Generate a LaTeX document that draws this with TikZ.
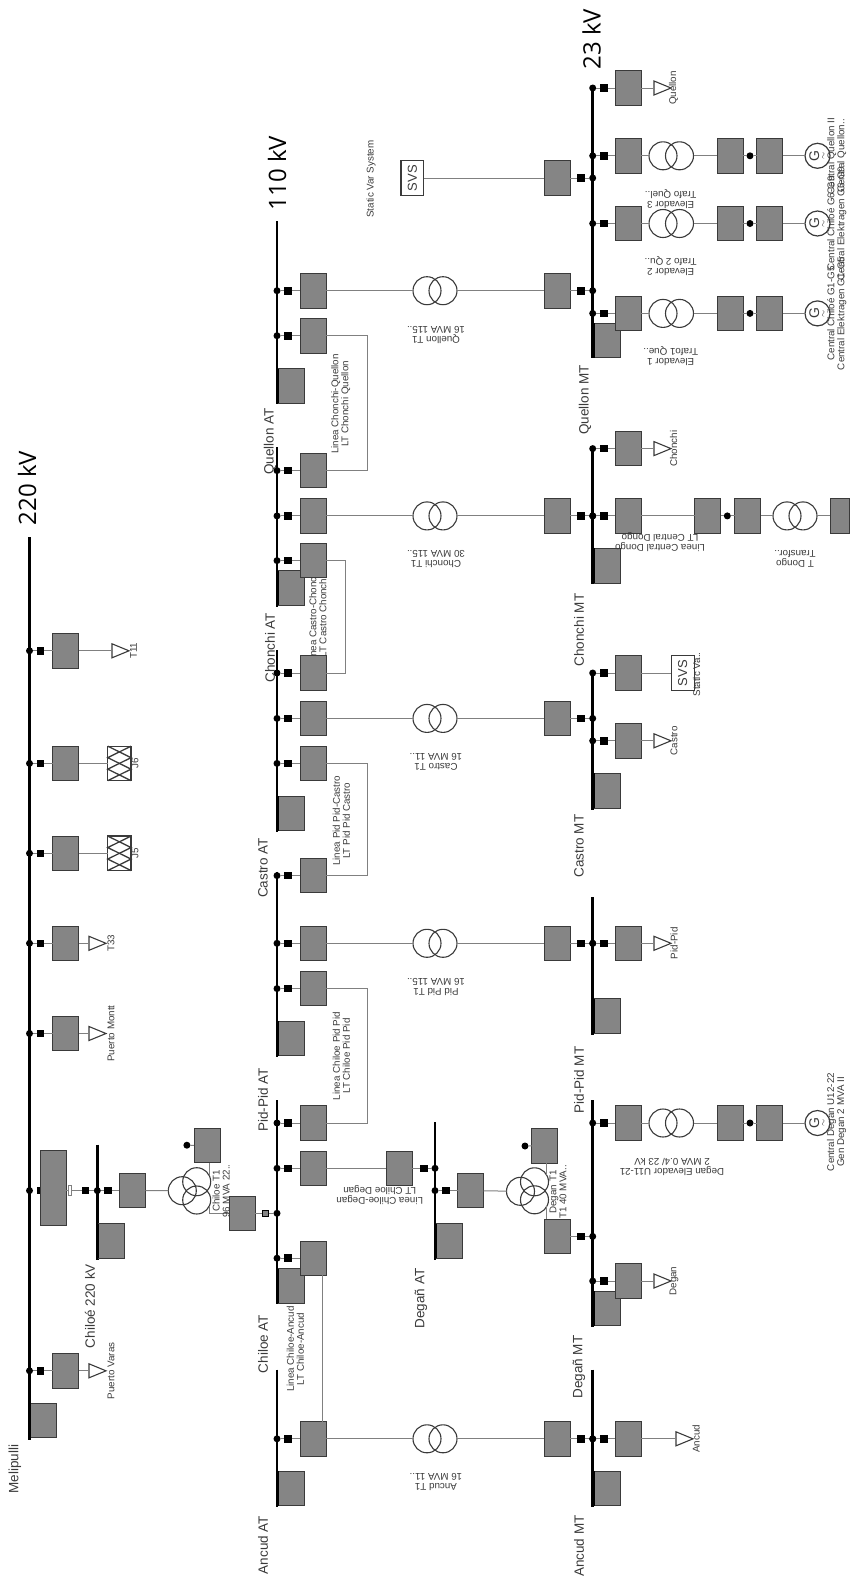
\documentclass[tikz,border=0pt]{standalone}
\usepackage{fontspec}
\setmainfont{Liberation Sans}
\newfontfamily\kvfont{Open Sans}
\usetikzlibrary{shapes.geometric}
\definecolor{boxgray}{HTML}{858585}
\definecolor{wiregray}{HTML}{808080}
\definecolor{inkgray}{HTML}{3A3A3A}
\tikzset{
  wire/.style={color=wiregray, line width=1pt},
  busbar/.style={color=black, line width=2.8pt},
  gbox/.style={rectangle, draw=inkgray, fill=boxgray, line width=0.9pt, minimum width=26pt, minimum height=34.5pt, inner sep=0pt, outer sep=0pt},
  sqr/.style={rectangle, fill=black, minimum size=7.6pt, inner sep=0pt, outer sep=0pt},
  busdot/.style={circle, fill=black, minimum size=7pt, inner sep=0pt, outer sep=0pt},
  winding/.style={circle, draw=inkgray, line width=1.1pt, minimum size=28pt, inner sep=0pt, outer sep=0pt},
  gen/.style={circle, draw=inkgray, line width=1.2pt, minimum size=25pt, inner sep=0pt, outer sep=0pt, rotate=90, align=center, text=inkgray, font=\fontsize{14}{7.5}\selectfont},
  load/.style={isosceles triangle, isosceles triangle stretches, shape border rotate=0, draw=inkgray, line width=1.1pt, minimum width=14pt, minimum height=17pt, inner sep=0pt, outer sep=0pt, anchor=apex},
  shunt/.style={rectangle, draw=inkgray, line width=1.2pt, minimum width=23.3pt, minimum height=34.5pt, inner sep=0pt, outer sep=0pt},
  svsbox/.style={rectangle, draw=inkgray, fill=white, line width=1.1pt, rotate=90, minimum width=34.5pt, minimum height=22.7pt, inner sep=0pt, outer sep=0pt, text=inkgray, font=\fontsize{13}{13}\selectfont},
  lbl/.style={rotate=90, align=center, inner sep=0pt, text=inkgray, font=\fontsize{9.8}{10}\selectfont},
  flip/.style={rotate=180, align=center, inner sep=0pt, text=inkgray, font=\fontsize{9.8}{10}\selectfont},
  busname/.style={rotate=90, inner sep=0pt, text=inkgray, font=\fontsize{13.5}{14}\selectfont},
  kvname/.style={rotate=90, inner sep=0pt, text=black, font=\kvfont\fontsize{24}{24}\selectfont}
}
\begin{document}
\begin{tikzpicture}[x=1pt,y=-1pt]
\useasboundingbox (0,0) rectangle (849,1580);
% labels the boxes partly hide
\node[lbl] (lineCK) at (317.8,617) {Linea Castro-Chonchi\\LT Castro Chonchi};
% bus bars
\foreach \nm/\xx/\ya/\yb in {mel/29.5/537/1439.5, chi/97.3/1144.7/1259.6, qat/277/221.4/404, cat/277/447/607, kat/277/650/831.7, pat/277/871.6/1056.8, hat/277/1100/1304, aat/277/1369.5/1507, dat/435/1122/1259.6, qmt/592.7/87/358.4, cmt/592.7/448/583.6, kmt/592.7/673/810, pmt/592.7/897/1035, dmt/592.7/1100/1327, amt/592.7/1369.5/1507}{
  \coordinate (\nm T) at (\xx,\ya);
  \coordinate (\nm B) at (\xx,\yb);
  \draw[busbar] (\nm T) -- (\nm B);
}
% boxes at the end of the bus bars
\foreach \nm/\xx/\yy in {mel/43.3/1420.6, chi/111/1241, qat/291/386, cat/291/588, kat/291/813.3, pat/291/1038.5, hat/291/1286, aat/291/1488.5, dat/449.2/1241, qmt/607/340.6, cmt/607/565.7, kmt/607/790.7, pmt/607/1016, dmt/607/1308.5, amt/607/1488.5}{
  \node[gbox] (e\nm) at (\xx,\yy) {};
  \draw[color=black, line width=1.6pt] (e\nm.north west) -- (e\nm.south west);
}
% bays on the 220 bus
\foreach \nm/\yy in {lva/1370.8, lmo/1033.5, l33/943.3, j5/853.3, j6/763.4, l11/650.8}{
  \node[busdot] (d\nm) at (29.5,\yy) {};
  \node[sqr] (s\nm) at (40.5,\yy) {};
  \node[gbox] (b\nm) at (65.7,\yy) {};
  \draw[wire] (d\nm) -- (s\nm) -- (b\nm);
}
% bays on the high side bus
\foreach \nm/\yy in {qa1/290.7, qa2/335.7, ca1/470.6, ca2/515.9, ca3/560.6, ka1/673, ka2/718.4, ka3/763.4, pa1/875.6, pa2/943.3, pa3/988.6, ha1/1123, ha2/1168.3, ha4/1258.2, aa1/1438.8}{
  \node[busdot] (d\nm) at (277,\yy) {};
  \node[sqr] (s\nm) at (288,\yy) {};
  \node[gbox] (b\nm) at (313,\yy) {};
  \draw[wire] (d\nm) -- (s\nm) -- (b\nm);
}
% two winding transformers between the buses
\foreach \nm/\yy/\hi in {qm1/290.7/qa1, cm1/515.9/ca2, km1/718.4/ka2, pm1/943.3/pa2, am1/1438.8/aa1}{
  \node[winding] (wa\nm) at (427,\yy) {};
  \node[winding] (wb\nm) at (443,\yy) {};
  \node[busdot] (d\nm) at (592.7,\yy) {};
  \node[sqr] (s\nm) at (580.7,\yy) {};
  \node[gbox] (b\nm) at (557,\yy) {};
  \draw[wire] (b\hi) -- (wa\nm);
  \draw[wire] (wb\nm) -- (b\nm) -- (s\nm) -- (d\nm);
}
% bays to the right of the low side bus
\foreach \nm/\yy in {qm2/88, cm2/448.6, kmv/673, km2/740.8, pm2/943.3, dm2/1281, am2/1438.8, cmd/515.9, qg1/155.8, qg2/223.5, qg3/313.4, dg1/1123}{
  \node[busdot] (d\nm) at (592.7,\yy) {};
  \node[sqr] (s\nm) at (604,\yy) {};
  \node[gbox] (b\nm) at (628,\yy) {};
  \draw[wire] (d\nm) -- (s\nm) -- (b\nm);
}
% step up sets with generator
\foreach \nm/\yy in {qg1/155.8, qg2/223.5, qg3/313.4, dg1/1123}{
  \node[winding] (wa\nm) at (663,\yy) {};
  \node[winding] (wb\nm) at (679.5,\yy) {};
  \node[gbox] (m\nm) at (730,\yy) {};
  \node[busdot] (n\nm) at (750,\yy) {};
  \node[gbox] (o\nm) at (769.7,\yy) {};
  \node[gen] (g\nm) at (817.5,\yy) {G\\[-1pt]{\fontsize{9}{7.5}\selectfont$\sim$}};
  \draw[wire] (b\nm) -- (wa\nm);
  \draw[wire] (wb\nm) -- (m\nm) -- (n\nm) -- (o\nm) -- (g\nm);
}
% loads
\foreach \nm/\feeder/\xx/\yy/\txt/\tx in {lva/blva/106/1370.8/Puerto Varas/111, lmo/blmo/106/1033.5/Puerto Montt/111, l33/bl33/106/943.3/T33/111, l11/bl11/129/650.8/T11/133.5, qm2/bqm2/671/88/Quellon/673.5, cm2/bcm2/671/448.6/Chonchi/673.5, km2/bkm2/671/740.8/Castro/674, pm2/bpm2/671/943.3/Pid-Pid/674, dm2/bdm2/671/1281/Degan/674, am2/bam2/693/1438.8/Ancud/696}{
  \node[load] (t\nm) at (\xx,\yy) {};
  \draw[wire] (\feeder) -- (t\nm);
  \node[lbl] (x\nm) at (\tx,\yy) {\txt};
}
% hatched shunts
\foreach \nm/\yy in {j5/853.3, j6/763.4}{
  \node[shunt] (r\nm) at (119.4,\yy) {};
  \draw[color=inkgray, line width=1.3pt] (r\nm.north west) -- ++(23.3,11.5) -- ++(-23.3,11.5) -- ++(23.3,11.5);
  \draw[color=inkgray, line width=1.3pt] (r\nm.north east) -- ++(-23.3,11.5) -- ++(23.3,11.5) -- ++(-23.3,11.5);
  \draw[wire] (b\nm) -- (r\nm);
}
\node[lbl] (xj5) at (135,853.3) {J5};
\node[lbl] (xj6) at (135,763.4) {J6};
% Chiloe 220 and its transformer
\node[busdot] (dmel) at (29.5,1190.6) {};
\node[sqr] (smel) at (40.5,1190.6) {};
\node[gbox, minimum height=74.7pt] (bmel) at (53,1187.7) {};
\node[rectangle, draw=wiregray, line width=1pt, minimum width=3pt, minimum height=10pt, inner sep=0pt] (tmel) at (70,1190.6) {};
\node[sqr] (schi) at (85.5,1190.6) {};
\node[busdot] (dchi) at (97.3,1190.6) {};
\node[sqr] (schb) at (108,1190.6) {};
\node[gbox] (bchb) at (132.3,1190.6) {};
\draw[wire] (bmel.east |- tmel) -- (tmel) -- (schi) -- (dchi) -- (schb) -- (bchb);
\node[winding] (tcl) at (182.3,1190.7) {};
\node[winding] (tct) at (196.7,1181.7) {};
\node[winding] (tcb) at (196.7,1200) {};
\node[gbox] (bctop) at (207,1145.6) {};
\node[busdot] (dctop) at (186.9,1145.2) {};
\node[gbox] (bcbot) at (242,1213.3) {};
\node[rectangle, draw=black, fill=boxgray, line width=0.9pt, minimum width=5.6pt, minimum height=6.5pt, inner sep=0pt] (shat) at (265.7,1213.3) {};
\node[busdot] (dhat) at (277,1213.3) {};
\draw[wire] (bchb) -- (tcl);
\draw[wire] (tct.27) -- (tct.27 |- bctop.south);
\draw[wire] (dctop) -- (bctop);
\draw[wire] (tcb.-27) |- (bcbot);
\draw[wire] (bcbot) -- (shat) -- (dhat);
\node[lbl] (lchit) at (221.2,1191) {Chiloe T1\\96 MVA 22..};
% Degan 110 and its transformer
\node[gbox] (bdeg) at (399.3,1168.3) {};
\node[sqr] (sdeg) at (423.7,1168.3) {};
\node[busdot] (ddeg) at (435,1168.3) {};
\draw[wire] (bha2) -- (bdeg) -- (sdeg) -- (ddeg);
\node[busdot] (ddat) at (435,1190.6) {};
\node[sqr] (sdat) at (446,1190.6) {};
\node[gbox] (bdat) at (470.5,1190.6) {};
\draw[wire] (ddat) -- (sdat) -- (bdat);
\node[winding] (tdl) at (520.5,1191.3) {};
\node[winding] (tdt) at (534.5,1181.8) {};
\node[winding] (tdb) at (534.5,1199.8) {};
\node[gbox] (bdtop) at (544.8,1145.7) {};
\node[busdot] (ddtop) at (525,1146) {};
\node[gbox] (bdbot) at (557,1236.4) {};
\node[sqr] (sdbot) at (580.7,1236.4) {};
\node[busdot] (ddbot) at (592.7,1236.4) {};
\draw[wire] (bdat) -- (tdl);
\draw[wire] (tdt.27) -- (tdt.27 |- bdtop.south);
\draw[wire] (ddtop) -- (bdtop);
\draw[wire] (tdb.-27) -- (tdb.-27 |- bdbot.north);
\draw[wire] (bdbot) -- (sdbot) -- (ddbot);
\node[lbl] (ldegt) at (558,1192) {Degan T1\\T1 40 MVA..};
% Static var systems
\node[busdot] (dqs) at (592.7,178) {};
\node[sqr] (sqs) at (580.7,178) {};
\node[gbox] (bqs) at (557,178) {};
\node[svsbox] (vqs) at (412.3,178) {SVS};
\draw[wire] (vqs) -- (bqs) -- (sqs) -- (dqs);
\node[svsbox] (vkm) at (682.7,673) {SVS};
\draw[wire] (bkmv) -- (vkm);
% lines between substations
\draw[wire] (bqa2.east) -- ++(41,0) |- (bca1.east);
\draw[wire] (bka1.east) -- ++(19,0) |- (bca3.east);
\draw[wire] (bka3.east) -- ++(41,0) |- (bpa1.east);
\draw[wire] (bpa3.east) -- ++(41,0) |- (bha1.east);
\draw[wire] ([xshift=9pt]bha4.south) -- ([xshift=9pt]baa1.north);
% Dongo branch
\node[gbox] (bdng) at (707.7,515.9) {};
\node[busdot] (ddng) at (727.3,515.9) {};
\node[gbox] (cdng) at (747.8,515.9) {};
\node[winding] (wadng) at (787,515.9) {};
\node[winding] (wbdng) at (803,515.9) {};
\node[gbox, minimum width=19pt] (edng) at (839.5,515.9) {};
\draw[wire] (bcmd) -- (bdng) -- (ddng) -- (cdng) -- (wadng);
\draw[wire] (wbdng) -- (edng);
% bus names
\node[kvname] (kva) at (27,488) {220 kV};
\node[kvname] (kvb) at (277,173) {110 kV};
\node[kvname] (kvc) at (591.5,39) {23 kV};
\node[busname] (nmel) at (15,1469) {Melipulli};
\node[busname] (nchi) at (90,1306) {Chiloé 220 kV};
\node[busname] (nqa) at (270,441.5) {Quellon AT};
\node[busname] (nca) at (270,647.6) {Chonchi AT};
\node[busname] (nka) at (263,868) {Castro AT};
\node[busname] (npa) at (263,1100) {Pid-Pid AT};
\node[busname] (nha) at (263,1344) {Chiloe AT};
\node[busname] (naa) at (263,1545) {Ancud AT};
\node[busname] (nda) at (421,1298.6) {Degañ AT};
\node[busname] (nqm) at (585,400) {Quellon MT};
\node[busname] (ncm) at (579,630) {Chonchi MT};
\node[busname] (nkm) at (579,846) {Castro MT};
\node[busname] (npm) at (579,1080) {Pid-Pid MT};
\node[busname] (ndm) at (579,1367) {Degañ MT};
\node[busname] (nam) at (579,1546) {Ancud MT};
% text along the lines
\node[lbl] (lqc) at (340.8,404) {Linea Chonchi-Quellon\\LT Chonchi Quellon};
\node[lbl] (lpk) at (341.3,820.7) {Linea Pid Pid-Castro\\LT Pid Pid Castro};
\node[lbl] (lhp) at (341.3,1056) {Linea Chiloe Pid Pid\\LT Chiloe Pid Pid};
\node[lbl] (lha) at (295.3,1349) {Linea Chiloe-Ancud\\LT Chiloe-Ancud};
\node[flip] (lhd) at (379.7,1194.7) {Linea Chiloe-Degan\\LT Chiloe Degan};
\node[flip] (ldng) at (660,542) {Linea Central Dongo\\LT Central Dongo};
\node[flip] (ltd) at (795,559) {T Dongo\\Transfor..};
% text at the transformers
\node[flip] (lt1) at (436,334.6) {Quellon T1\\16 MVA 115..};
\node[flip] (lt2) at (436,559) {Chonchi T1\\30 MVA 115..};
\node[flip] (lt3) at (436,761.7) {Castro T1\\16 MVA 11..};
\node[flip] (lt4) at (436,987) {Pid Pid T1\\16 MVA 115..};
\node[flip] (lt5) at (436,1481.5) {Ancud T1\\16 MVA 11..};
\node[flip] (le1) at (670.7,356.6) {Elevador 1\\Trafo1 Que..};
\node[flip] (le2) at (670.7,266.2) {Elevador 2\\Trafo 2 Qu..};
\node[flip] (le3) at (670.7,198.8) {Elevador 3\\Trafo Quel..};
\node[flip] (le4) at (672,1167) {Degan Elevador U11-21\\2 MVA 0.4/ 23 kV};
% text at the generators
\node[lbl] (lg1) at (836.7,313.4) {Central Chiloé G1-G5\\Central Elektragen G1-G5};
\node[lbl] (lg2) at (836.7,223.5) {Central Chiloé G6-G9\\Central Elektragen G6-G9};
\node[lbl] (lg3) at (836.7,156) {Central Quellon II\\Central Quellon..};
\node[lbl] (lg4) at (836.7,1122) {Central Degan U12-22\\Gen Degan 2 MVA II};
\node[lbl] (lsv1) at (371,179) {Static Var System};
\node[lbl] (lsv2) at (696.5,674.5) {Static Va..};
\end{tikzpicture}
\end{document}
